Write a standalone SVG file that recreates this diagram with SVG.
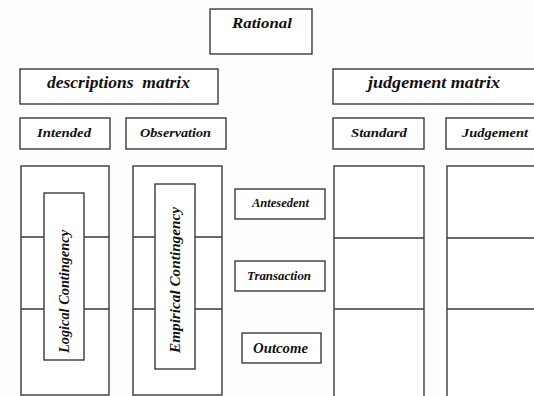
<svg xmlns="http://www.w3.org/2000/svg" width="534" height="396" viewBox="0 0 534 396">
<style>
.b{fill:#fff;stroke:#3a3a3a;stroke-width:1.4}
.l{stroke:#3a3a3a;stroke-width:1.4;fill:none}
.t{fill:#111;text-anchor:middle}
</style>
<rect x="0" y="0" width="534" height="396" fill="#fdfdfd"/>
<g font-family="'Liberation Serif', 'Times New Roman', serif" font-style="italic" font-weight="bold">
<g id="rational"><rect class="b" x="210" y="9" width="102" height="45"/><text class="t" x="262" y="28" font-size="15" textLength="60" lengthAdjust="spacingAndGlyphs">Rational</text></g>
<g id="descriptions-matrix"><rect class="b" x="20" y="69" width="198" height="35"/><text class="t" x="118.5" y="88" font-size="16" xml:space="preserve" textLength="143" lengthAdjust="spacingAndGlyphs">descriptions  matrix</text></g>
<g id="judgement-matrix"><rect class="b" x="333" y="69" width="204" height="35"/><text class="t" x="434" y="88" font-size="16" textLength="132" lengthAdjust="spacingAndGlyphs">judgement matrix</text></g>
<g id="intended"><rect class="b" x="20" y="118" width="90" height="31"/><text class="t" x="64" y="137" font-size="13" textLength="54" lengthAdjust="spacingAndGlyphs">Intended</text></g>
<g id="observation"><rect class="b" x="126" y="118" width="100" height="31"/><text class="t" x="175.5" y="137" font-size="13" textLength="71" lengthAdjust="spacingAndGlyphs">Observation</text></g>
<g id="standard"><rect class="b" x="333" y="118" width="91" height="31"/><text class="t" x="379" y="137" font-size="13" textLength="56" lengthAdjust="spacingAndGlyphs">Standard</text></g>
<g id="judgement"><rect class="b" x="446" y="118" width="96" height="31"/><text class="t" x="495" y="137" font-size="13" textLength="66" lengthAdjust="spacingAndGlyphs">Judgement</text></g>
<g id="intended-column"><rect class="b" x="21" y="166" width="88" height="229"/><line class="l" x1="21" y1="237" x2="109" y2="237"/><line class="l" x1="21" y1="309" x2="109" y2="309"/></g>
<g id="observation-column"><rect class="b" x="133" y="166" width="89" height="229"/><line class="l" x1="133" y1="237" x2="222" y2="237"/><line class="l" x1="133" y1="309" x2="222" y2="309"/></g>
<g id="standard-column"><rect class="b" x="334" y="166" width="90" height="232"/><line class="l" x1="334" y1="238" x2="424" y2="238"/><line class="l" x1="334" y1="309" x2="424" y2="309"/></g>
<g id="judgement-column"><rect class="b" x="447" y="166" width="95" height="232"/><line class="l" x1="447" y1="238" x2="542" y2="238"/><line class="l" x1="447" y1="309" x2="542" y2="309"/></g>
<g id="logical-contingency"><rect class="b" x="44" y="193" width="40" height="167"/><text class="t" transform="translate(69,291.5) rotate(-90)" font-size="15" textLength="123" lengthAdjust="spacingAndGlyphs">Logical Contingency</text></g>
<g id="empirical-contingency"><rect class="b" x="155" y="184" width="40" height="185"/><text class="t" transform="translate(180,280) rotate(-90)" font-size="15" textLength="146" lengthAdjust="spacingAndGlyphs">Empirical Contingency</text></g>
<g id="antesedent"><rect class="b" x="235" y="189" width="90" height="30"/><text class="t" x="280.5" y="207" font-size="13" textLength="57" lengthAdjust="spacingAndGlyphs">Antesedent</text></g>
<g id="transaction"><rect class="b" x="235" y="261" width="90" height="30"/><text class="t" x="279" y="280" font-size="13" textLength="64" lengthAdjust="spacingAndGlyphs">Transaction</text></g>
<g id="outcome"><rect class="b" x="242" y="333" width="79" height="30"/><text class="t" x="280.5" y="353" font-size="14" textLength="55" lengthAdjust="spacingAndGlyphs">Outcome</text></g>
</g>
<g id="connectors"></g>
</svg>
